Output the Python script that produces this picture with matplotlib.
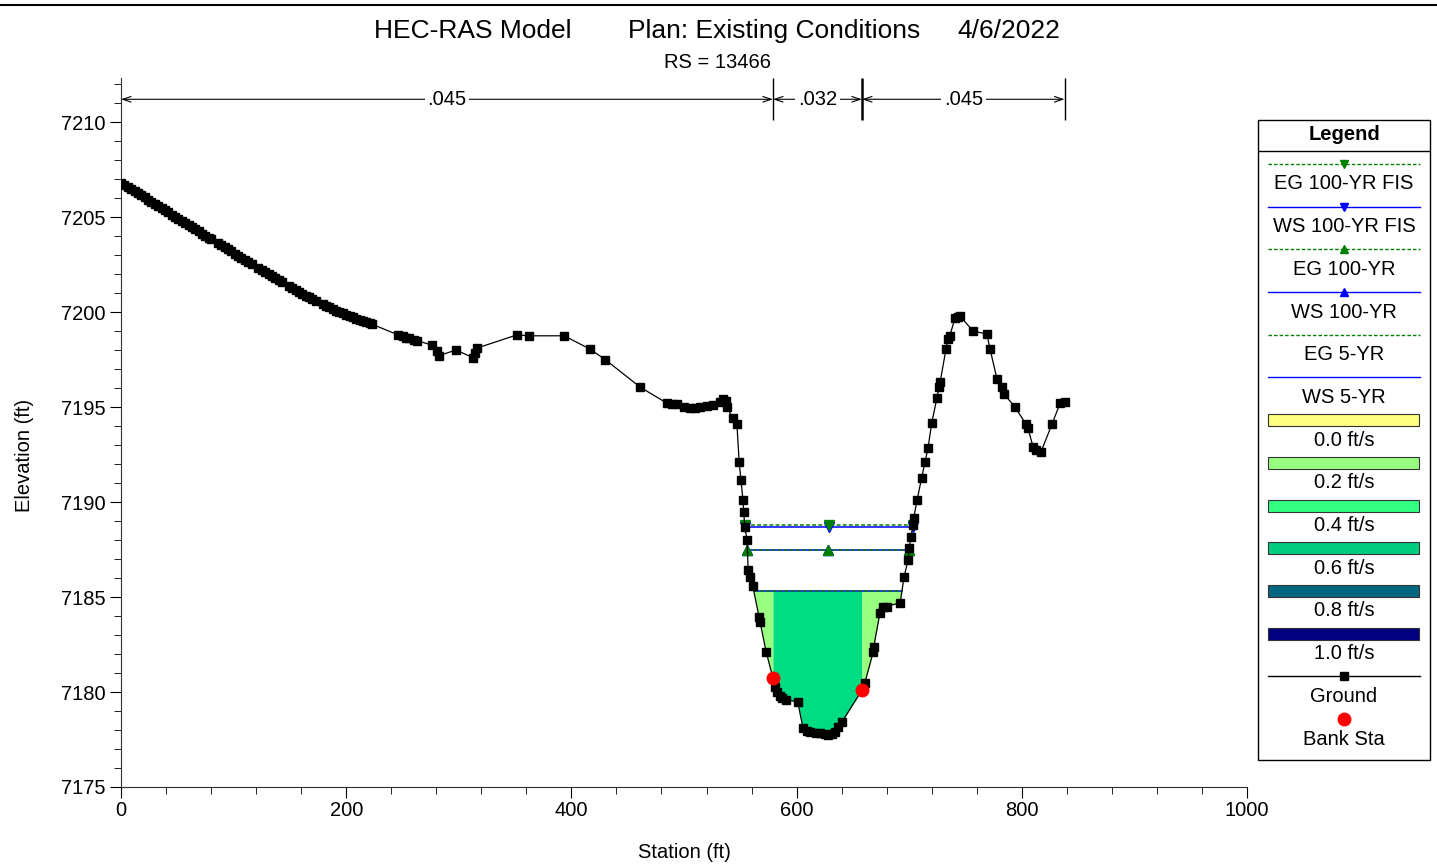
import numpy as np
import matplotlib
matplotlib.use('Agg')
from matplotlib import pyplot as plt
from matplotlib.patches import Rectangle
from matplotlib.lines import Line2D
from matplotlib.ticker import MultipleLocator

plt.rcParams['font.family'] = ['Liberation Sans', 'DejaVu Sans']

# Ground profile at RS 13466 (station ft, elevation ft)
station = [0, 3, 6, 9, 12, 15, 18, 21, 24, 27, 30, 33, 36, 39, 42, 45, 48, 51, 54, 57,
           60, 63, 66, 69, 72, 75, 78, 80, 86, 89, 92, 95, 98, 101, 104, 107, 110, 113, 116,
           122, 125, 128, 131, 134, 137, 140, 143, 149, 152, 155, 158, 161, 164, 167, 170, 173,
           179, 182, 185, 188, 191, 194, 197, 200, 203, 206, 209, 212, 215, 218, 221, 223,
           246, 250, 253, 256, 260, 263, 276, 281, 282, 297.5, 312.6, 314, 316,
           351.7, 362, 393.6, 416.5, 430, 461, 485, 489, 494, 500, 505, 510, 514, 520, 526,
           532, 535, 537, 538, 543.5, 547, 549, 550.6, 552.4, 553, 554, 556, 557, 559, 561,
           566.6, 567.5, 573, 579, 581, 582.6, 585, 587, 590.6, 601, 605.7, 609, 612, 617,
           621, 625, 628, 631, 634, 636.8, 640, 658, 660.7, 668, 668.5, 674, 676.7, 680, 692,
           695.4, 699, 700, 701.6, 703.4, 704, 707, 711, 714, 716.7, 720, 724.7, 726.5, 727.4,
           732.7, 734.5, 736, 740.7, 743, 745, 756.7, 769, 771.8, 778, 782.4, 784, 794,
           803.7, 805.5, 810, 813, 817, 826.8, 834, 838]
elevation = [7206.79, 7206.70, 7206.58, 7206.47, 7206.36, 7206.25, 7206.14, 7206.03, 7205.91, 7205.80,
             7205.69, 7205.58, 7205.47, 7205.36, 7205.25, 7205.13, 7205.02, 7204.91, 7204.80, 7204.69,
             7204.58, 7204.47, 7204.36, 7204.25, 7204.13, 7204.02, 7203.92, 7203.84, 7203.62, 7203.51,
             7203.40, 7203.30, 7203.19, 7203.08, 7202.97, 7202.87, 7202.76, 7202.65, 7202.55,
             7202.33, 7202.22, 7202.12, 7202.01, 7201.90, 7201.79, 7201.68, 7201.58, 7201.37, 7201.27,
             7201.17, 7201.07, 7200.97, 7200.87, 7200.77, 7200.67, 7200.57,
             7200.40, 7200.32, 7200.24, 7200.16, 7200.08, 7200.00, 7199.93, 7199.86, 7199.79, 7199.72,
             7199.65, 7199.58, 7199.52, 7199.46, 7199.40, 7199.36,
             7198.80, 7198.72, 7198.66, 7198.62, 7198.55, 7198.50, 7198.26, 7197.95, 7197.70,
             7198.00, 7197.60, 7197.85, 7198.10,
             7198.80, 7198.75, 7198.75, 7198.05, 7197.50, 7196.05, 7195.20, 7195.18, 7195.15, 7195.00,
             7194.95, 7194.97, 7195.00, 7195.05, 7195.10,
             7195.25, 7195.40, 7195.30, 7195.00, 7194.40, 7194.10, 7192.10, 7191.16, 7190.10, 7189.50,
             7188.70, 7188.00, 7186.40, 7186.05, 7185.60,
             7183.95, 7183.70, 7182.10, 7180.74, 7180.26, 7180.00, 7179.80, 7179.70, 7179.60, 7179.47,
             7178.10, 7177.95, 7177.90, 7177.85,
             7177.84, 7177.80, 7177.74, 7177.78, 7177.90, 7178.16, 7178.40, 7180.10, 7180.50, 7182.10,
             7182.37, 7184.16, 7184.50, 7184.50, 7184.70,
             7186.05, 7186.95, 7187.60, 7188.16, 7188.80, 7189.16, 7190.10, 7191.26, 7192.10, 7192.84,
             7194.16, 7195.50, 7196.05, 7196.30,
             7198.05, 7198.60, 7198.74, 7199.68, 7199.75, 7199.80, 7199.00, 7198.84, 7198.05, 7196.47,
             7196.05, 7195.70, 7195.00,
             7194.10, 7193.90, 7192.90, 7192.75, 7192.63, 7194.10, 7195.20, 7195.26]

# Bank stations
bank_sta = [579, 658]
bank_elev = [7180.74, 7180.10]

# Computed profiles (EG / WS)
profile_names = ['EG 100-YR FIS', 'WS 100-YR FIS', 'EG 100-YR', 'WS 100-YR', 'EG 5-YR', 'WS 5-YR']
profile_elev = [7188.80, 7188.70, 7187.48, 7187.45, 7185.33, 7185.32]
profile_colors = ['#008000', '#0000ff', '#008000', '#0000ff', '#008000', '#0000ff']
profile_markers = ['v', 'v', '^', '^', None, None]

# Manning's n breaks and values
n_breaks = [0, 579, 658, 838]
n_values = ['.045', '.032', '.045']

# Velocity colour scale
vel_labels = ['0.0 ft/s', '0.2 ft/s', '0.4 ft/s', '0.6 ft/s', '0.8 ft/s', '1.0 ft/s']
vel_colors = ['#ffff80', '#99ff80', '#33ff80', '#00cc80', '#006680', '#000080']
zone_colors = ['#99ff80', '#00dc82', '#99ff80']  # left ob, channel, right ob

sta = np.array(station)
elev = np.array(elevation)
low = int(np.argmin(elev))


def wet_limits(z):
    # walk out from the thalweg until the ground rises above z
    i = low
    while elev[i - 1] < z:
        i -= 1
    left = np.interp(z, [elev[i], elev[i - 1]], [sta[i], sta[i - 1]])
    j = low
    while elev[j + 1] < z:
        j += 1
    right = np.interp(z, [elev[j], elev[j + 1]], [sta[j], sta[j + 1]])
    return left, right


fig = plt.figure(figsize=(14.37, 8.66), dpi=100)
ax = fig.add_axes([121 / 1437, 1 - 787 / 866, 1126 / 1437, 709 / 866])
ytop = 7212.32
ax.set_xlim(0, 1000)
ax.set_ylim(7175, ytop)

# velocity distribution fill for the 5-yr water surface
ws = profile_elev[5]
zones = [sta <= bank_sta[0], (sta >= bank_sta[0]) & (sta <= bank_sta[1]), sta >= bank_sta[1]]
for mask, c in zip(zones, zone_colors):
    ax.fill_between(sta[mask], elev[mask], ws, where=elev[mask] <= ws,
                    interpolate=True, color=c, lw=0, zorder=1)

# water surface / energy grade lines
for k in [1, 0, 3, 2, 5, 4]:
    z = profile_elev[k]
    l, r = wet_limits(z)
    ls = (0, (2.5, 1.5)) if profile_names[k].startswith('EG') else '-'
    ax.plot([l, r], [z, z], color=profile_colors[k], ls=ls, lw=1.1, zorder=3)
    if profile_markers[k]:
        ax.plot([l, (l + r) / 2, r], [z, z, z], ls='none', marker=profile_markers[k],
                color=profile_colors[k], ms=7, zorder=3)

# ground and bank stations
ax.plot(sta, elev, color='black', lw=0.9, marker='s', ms=6.4, zorder=4)
ax.plot(bank_sta, bank_elev, ls='none', marker='o', color='red', mec='red', ms=9, zorder=5)

# Manning's n extents along the top
n_y = 7211.2
for k, lab in enumerate(n_values):
    a, b = n_breaks[k], n_breaks[k + 1]
    ax.annotate('', xy=(a, n_y), xytext=(b, n_y),
                arrowprops=dict(arrowstyle='<->,head_length=0.6,head_width=0.2',
                                color='black', lw=0.8, shrinkA=0, shrinkB=0))
    ax.text((a + b) / 2, n_y, lab, ha='center', va='center', fontsize=14.5,
            bbox=dict(fc='white', ec='none', pad=2))
ax.vlines(n_breaks[1:], 7210.1, ytop, colors='black', lw=[1, 1.8, 1], clip_on=False)

# axes formatting
for s in ['top', 'right']:
    ax.spines[s].set_visible(False)
for s in ['left', 'bottom']:
    ax.spines[s].set_color('#303030')
ax.xaxis.set_major_locator(MultipleLocator(200))
ax.xaxis.set_minor_locator(MultipleLocator(40))
ax.yaxis.set_major_locator(MultipleLocator(5))
ax.yaxis.set_minor_locator(MultipleLocator(1))
ax.tick_params(which='major', direction='out', length=8, labelsize=14.5)
ax.tick_params(which='minor', direction='out', length=5)
ax.tick_params(axis='x', pad=2)
ax.tick_params(axis='y', pad=3)

fig.text(684 / 1437, 1 - 852 / 866, 'Station (ft)', ha='center', va='center', fontsize=14.5)
fig.text(25 / 1437, 1 - 455 / 866, 'Elevation (ft)', ha='center', va='center',
         rotation=90, fontsize=14.5)

# title block
fig.text(374 / 1437, 1 - 31 / 866, 'HEC-RAS Model', ha='left', va='center', fontsize=19)
fig.text(628 / 1437, 1 - 31 / 866, 'Plan: Existing Conditions', ha='left', va='center', fontsize=19)
fig.text(957 / 1437, 1 - 31 / 866, '4/6/2022', ha='left', va='center', fontsize=19)
fig.text(718 / 1437, 1 - 62 / 866, 'RS = 13466', ha='center', va='center', fontsize=14.5)
fig.add_artist(Line2D([0, 1], [1 - 5 / 866] * 2, color='black', lw=1.5,
                      transform=fig.transFigure))

# legend panel
lg = fig.add_axes([1258 / 1437, 1 - 760 / 866, 172 / 1437, 640 / 866])
lg.set_xlim(0, 172)
lg.set_ylim(640, 0)
lg.axis('off')
lg.add_patch(Rectangle((0, 0), 172, 640, fill=False, ec='black', lw=1, clip_on=False))
lg.plot([0, 172], [31, 31], color='black', lw=1)
lg.text(86, 15, 'Legend', ha='center', va='center', fontsize=14.5, fontweight='bold')

step = 42.7
for i, name in enumerate(profile_names):
    y = 44 + step * i
    ls = (0, (2.5, 1.5)) if name.startswith('EG') else '-'
    lg.plot([10, 162], [y, y], color=profile_colors[i], ls=ls, lw=1)
    if profile_markers[i]:
        lg.plot([86], [y], ls='none', marker=profile_markers[i], color=profile_colors[i], ms=6)
    lg.text(86, y + 20, name, ha='center', va='center', fontsize=14.5)

for k, (lab, c) in enumerate(zip(vel_labels, vel_colors)):
    y = 44 + step * (6 + k)
    lg.add_patch(Rectangle((10, y - 6), 151, 12, fc=c, ec='#333333', lw=0.8))
    lg.text(86, y + 20, lab, ha='center', va='center', fontsize=14.5)

y = 44 + step * 12
lg.plot([10, 162], [y, y], color='black', lw=1)
lg.plot([86], [y], ls='none', marker='s', color='black', ms=6)
lg.text(86, y + 20, 'Ground', ha='center', va='center', fontsize=14.5)

y = 44 + step * 13
lg.plot([86], [y], ls='none', marker='o', color='red', ms=9)
lg.text(86, y + 20, 'Bank Sta', ha='center', va='center', fontsize=14.5)

fig.savefig('out.png', dpi=100)
